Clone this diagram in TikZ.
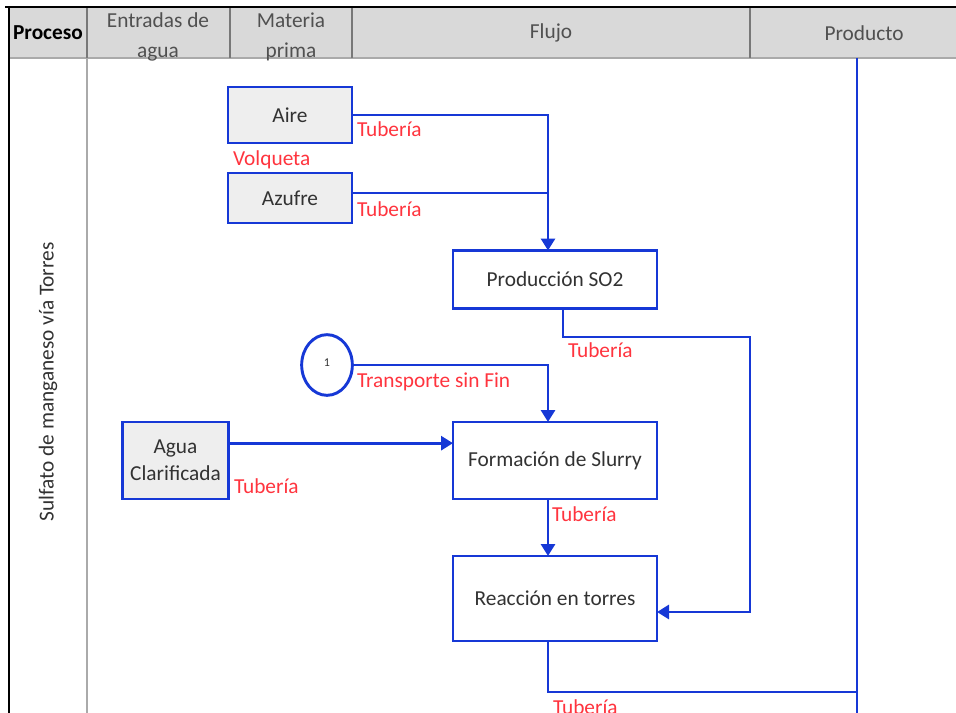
\documentclass[tikz,border=0pt]{standalone}
\usepackage{fontspec}
\setmainfont{Carlito}
\usetikzlibrary{arrows.meta,calc,shapes.geometric}
\definecolor{flowblue}{RGB}{22,56,214}
\definecolor{lblred}{RGB}{255,52,62}
\definecolor{hdrgray}{RGB}{217,217,217}
\definecolor{boxgray}{RGB}{238,238,238}
\definecolor{txtgray}{RGB}{50,50,50}
\definecolor{hdrtxt}{RGB}{80,80,80}
\definecolor{sepgray}{RGB}{120,120,120}
\definecolor{bodysep}{RGB}{170,170,170}
\begin{document}
\begin{tikzpicture}[x=0.75pt,y=-0.75pt,
  every node/.style={font=\fontsize{16}{20}\selectfont, inner sep=0pt, outer sep=0pt},
  stage/.style={draw=flowblue, line width=2.2pt, fill=white, text=txtgray, align=center},
  input/.style={stage, fill=boxgray},
  line/.style={draw=flowblue, line width=2.2pt},
  flow/.style={line, -{Triangle[length=9pt,width=10.5pt]}},
  tag/.style={text=lblred, anchor=base west},
  hdr/.style={text=hdrtxt, align=center, font=\fontsize{16}{22}\selectfont},
  ]
\useasboundingbox (0,0) rectangle (956,713);

% ---- swimlane table ----
\fill[hdrgray] (9,7) rectangle (960,58);
\draw[bodysep, line width=0.8pt] (9,58) -- (960,58);
\draw[sepgray, line width=1.3pt] (230,7) -- (230,58);
\draw[sepgray, line width=1.3pt] (352,7) -- (352,58);
\draw[sepgray, line width=1.3pt] (750,7) -- (750,58);
\draw[sepgray, line width=1.3pt] (87,7) -- (87,58);
\draw[bodysep, line width=1.6pt] (87,58) -- (87,716);
\draw[black, line width=1.6pt] (5,7) -- (960,7);
\draw[black, line width=1.6pt] (9,7) -- (9,716);

\node[font=\fontsize{16}{20}\selectfont\bfseries] (hproc) at (48,33) {Proceso};
\node[hdr] (hagua) at (158,37) {Entradas de\\agua};
\node[hdr] (hmat) at (291,37) {Materia\\prima};
\node[hdr] (hflujo) at (551,33) {Flujo};
\node[hdr] (hprod) at (864,33) {Producto};

\node[rotate=90, text=txtgray] (proc) at (48,382) {Sulfato de manganeso vía Torres};

% ---- process boxes ----
\node[input, minimum width=93pt, minimum height=42pt] (aire) at (290,115) {Aire};
\node[input, minimum width=93pt, minimum height=37.5pt] (azufre) at (290,198) {Azufre};
\node[stage, minimum width=153pt, minimum height=43.5pt] (prod) at (555,279.5) {Producción SO2};
\node[draw=flowblue, line width=2.2pt, ellipse, minimum width=38pt, minimum height=45.5pt,
      font=\fontsize{9}{10}\selectfont, text=txtgray] (one) at (327,365) {\raisebox{3pt}{1}};
\node[input, minimum width=80pt, minimum height=57.75pt] (agua) at (175.5,460.5) {Agua\\Clarificada};
\node[stage, minimum width=153pt, minimum height=57.75pt] (slurry) at (555,460.5) {Formación de Slurry};
\node[stage, minimum width=153pt, minimum height=63.75pt] (reac) at (555,598.5) {Reacción en torres};

% ---- guide columns and bend points ----
\coordinate (xa) at (548,0);
\coordinate (xp) at (563,0);
\coordinate (b1) at (563,337);
\coordinate (b2) at (750,337);
\coordinate (b3) at (750,612);
\coordinate (b4) at (548,692);
\coordinate (ptop) at (857,58);
\coordinate (pbot) at (857,716);

% ---- connectors ----
\draw[flow] (aire.east) -| (xa |- prod.north);
\draw[line] (azufre.east) ++(0,-5) coordinate (az) -- (az -| xa);
\draw[flow] (xp |- prod.south) -- (b1) -- (b2) -- (b3) -- (b3 -| reac.east);
\draw[flow] (one.east) -| (xa |- slurry.north);
\draw[flow] ([yshift=13pt]agua.east) -- ([yshift=13pt]slurry.west);
\draw[flow] (xa |- slurry.south) -- (xa |- reac.north);
\draw[line] (xa |- reac.south) -- (b4) -- (b4 -| ptop);
\draw[line] (ptop) -- (pbot);

% ---- transport labels ----
\node[tag] (t1) at (357,137) {Tubería};
\node[tag] (t2) at (233,166) {Volqueta};
\node[tag] (t3) at (357,216) {Tubería};
\node[tag] (t4) at (568,357) {Tubería};
\node[tag] (t5) at (357,387) {Transporte sin Fin};
\node[tag] (t6) at (234,493) {Tubería};
\node[tag] (t7) at (552,521) {Tubería};
\node[tag] (t8) at (553,714) {Tubería};
\end{tikzpicture}
\end{document}
